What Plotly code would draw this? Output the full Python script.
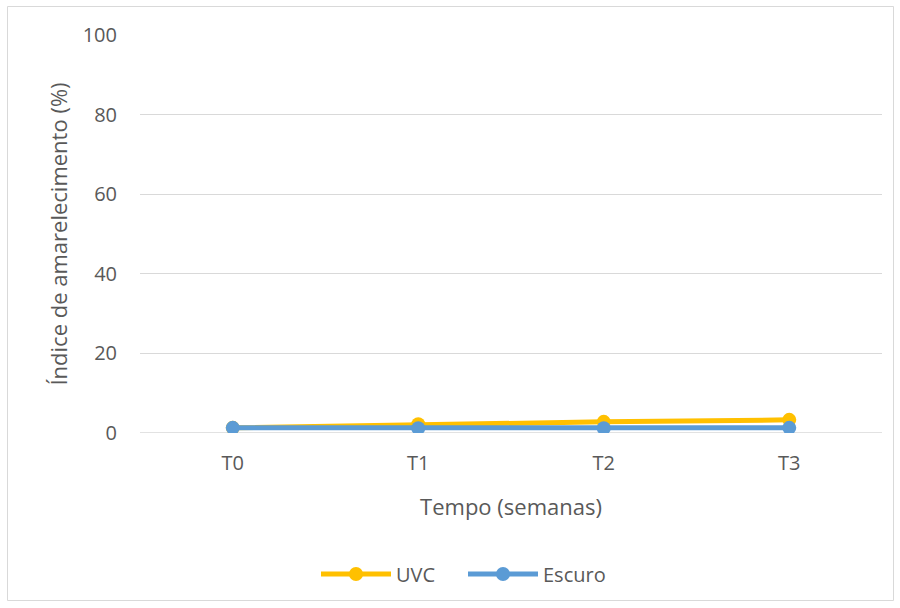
import plotly.graph_objects as go

categories = ["T0", "T1", "T2", "T3"]
uvc = [1.3, 2.2, 2.8, 3.3]
escuro = [1.3, 1.2, 1.2, 1.3]
y_ticks = [0, 20, 40, 60, 80, 100]

W, H = 900, 608
L, R, T, B = 140, 18, 35, 175
pw, ph = W - L - R, H - T - B

def px_to_paper_x(px):
    return (px - L) / pw

def px_to_paper_y(py):
    return (H - B - py) / ph

font_main = "Open Sans"
txt = "#595959"

fig = go.Figure()
fig.add_trace(go.Scatter(
    x=categories, y=uvc, name="UVC", mode="lines+markers",
    line=dict(color="#FFC000", width=5),
    marker=dict(size=14, color="#FFC000"),
))
fig.add_trace(go.Scatter(
    x=categories, y=escuro, name="Escuro", mode="lines+markers",
    line=dict(color="#5B9BD5", width=5),
    marker=dict(size=14, color="#5B9BD5"),
))

fig.update_layout(
    width=W, height=H,
    margin=dict(l=L, r=R, t=T, b=B),
    paper_bgcolor="white", plot_bgcolor="white",
    font=dict(family=font_main, size=20, color=txt),
    showlegend=True,
    legend=dict(orientation="h", x=px_to_paper_x(316), y=px_to_paper_y(574),
                xanchor="left", yanchor="middle",
                font=dict(size=20, color=txt), itemwidth=70,
                entrywidth=62, entrywidthmode="pixels"),
    xaxis=dict(
        range=[-0.5, 3.5], showgrid=False, zeroline=False,
        showline=False, ticks="", tickfont=dict(size=20, color=txt),
        ticklabelstandoff=16,
        title=dict(text="Tempo (semanas)", font=dict(size=22, color=txt), standoff=24),
    ),
    yaxis=dict(
        range=[0, 100], tickvals=y_ticks, showgrid=True, gridcolor="#D9D9D9",
        gridwidth=1, zeroline=False, showline=False, ticks="",
        tickfont=dict(size=20, color=txt), ticklabelstandoff=22,
        title=dict(text="Índice de amarelecimento (%)", font=dict(size=22, color=txt), standoff=8),
    ),
    shapes=[
        dict(type="rect", xref="paper", yref="paper",
             x0=px_to_paper_x(7.5), x1=px_to_paper_x(893.5),
             y0=px_to_paper_y(600.5), y1=px_to_paper_y(6.5),
             line=dict(color="#D9D9D9", width=1), layer="below"),
        dict(type="line", xref="paper", yref="y", x0=0, x1=1, y0=0, y1=0,
             line=dict(color="#D9D9D9", width=1.5), layer="below"),
    ],
)

fig.write_html("out.html")
